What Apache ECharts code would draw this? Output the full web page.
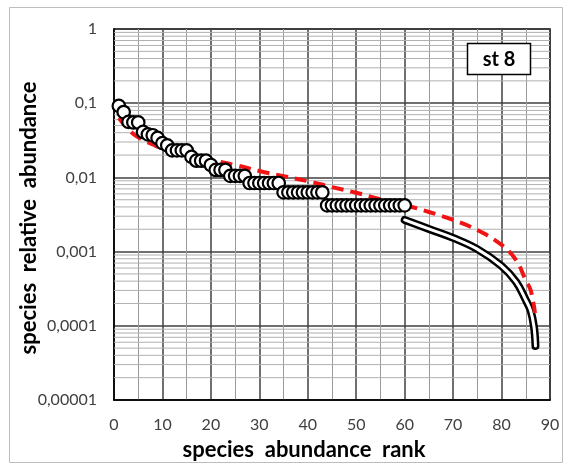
<!DOCTYPE html>
<html>
<head>
<meta charset="utf-8">
<script src="https://cdn.jsdelivr.net/npm/echarts@6/dist/echarts.min.js"></script>
<style>
  html, body { margin: 0; padding: 0; background: #fff; }
  #chart { width: 564px; height: 464px; }
</style>
</head>
<body>
<div id="chart"></div>
<script>
// Observed relative abundances, ranks 1..60
const observedAbundance = [
  0.092, 0.076, 0.056, 0.055, 0.055, 0.041, 0.038, 0.037, 0.034, 0.029,
  0.027, 0.0231, 0.0231, 0.0231, 0.0231, 0.0189, 0.0168, 0.0168, 0.0168, 0.0147,
  0.0126, 0.0126, 0.0126, 0.0105, 0.0105, 0.0105, 0.0105,
  0.0084, 0.0084, 0.0084, 0.0084, 0.0084, 0.0084, 0.0084,
  0.0063, 0.0063, 0.0063, 0.0063, 0.0063, 0.0063, 0.0063, 0.0063, 0.0063,
  0.0042, 0.0042, 0.0042, 0.0042, 0.0042, 0.0042, 0.0042, 0.0042, 0.0042,
  0.0042, 0.0042, 0.0042, 0.0042, 0.0042, 0.0042, 0.0042, 0.0042
];

// Estimated tail of rare (unobserved) species
const tailRanks  = [60, 65, 70, 75, 80, 83, 85, 86, 86.7, 87];
const tailValues = [0.00267, 0.00202, 0.00153, 0.00108, 0.00064, 0.00039, 0.000223, 0.00016, 0.0000963, 0.0000534];

// Fitted model curve
const fitRanks  = [1, 2, 4, 6, 8, 10, 15, 20, 25, 30, 35, 40, 45, 50, 55, 60, 65, 70, 75, 80, 83, 85, 86, 86.9];
const fitValues = [0.0632, 0.0525, 0.0385, 0.0319, 0.0278, 0.0245, 0.020, 0.0172, 0.0147, 0.0122, 0.0104,
                   0.0089, 0.0074, 0.0062, 0.0051, 0.00425, 0.00342, 0.00267, 0.00195, 0.00123, 0.00077,
                   0.00041, 0.000303, 0.000149];

const yTickLabels = { '1': '1', '0.1': '0,1', '0.01': '0,01', '0.001': '0,001', '0.0001': '0,0001', '0.00001': '0,00001' };
const stationLabel = 'st 8';

// minor log grid lines (2..9 within each decade)
const minorLevels = [];
for (let e = -5; e < 0; e++) {
  for (let m = 2; m <= 9; m++) minorLevels.push([0, m * Math.pow(10, e)]);
}

const observedData = observedAbundance.map((v, i) => [i + 1, v]);
const tailData = tailRanks.map((r, i) => [r, tailValues[i]]);
const fitData = fitRanks.map((r, i) => [r, fitValues[i]]);

const font = 'Lato, "Open Sans", sans-serif';

const chart = echarts.init(document.getElementById('chart'), null, { renderer: 'canvas' });
chart.setOption({
  backgroundColor: '#fff',
  animation: false,
  grid: {
    left: 114, right: 14, top: 29, bottom: 64,
    show: true, borderColor: '#000', borderWidth: 1.5, backgroundColor: 'transparent'
  },
  xAxis: {
    type: 'value', min: 0, max: 90, interval: 10,
    axisLine: { show: true, lineStyle: { color: '#000', width: 1.5 } },
    axisTick: { show: false },
    axisLabel: { color: '#404040', fontFamily: font, fontSize: 16, margin: 17 },
    splitLine: { show: true, lineStyle: { color: '#404040', width: 1.5 } },
    minorTick: { show: false, splitNumber: 2 },
    minorSplitLine: { show: true, lineStyle: { color: '#9a9a9a', width: 1 } }
  },
  yAxis: {
    type: 'log', logBase: 10, min: 0.00001, max: 1, splitNumber: 5,
    axisLine: { show: true, lineStyle: { color: '#000', width: 1.5 } },
    axisTick: { show: false },
    axisLabel: {
      color: '#404040', fontFamily: font, fontSize: 16, margin: 17,
      formatter: v => {
        const d = Math.round(-Math.log10(v));
        const key = d <= 0 ? '1' : v.toFixed(d);
        return yTickLabels[key] || key.replace('.', ',');
      }
    },
    splitLine: { show: true, lineStyle: { color: '#404040', width: 1.5 } }
  },
  graphic: {
    elements: [
      {
        type: 'rect', z: -10, silent: true,
        shape: { x: 9.5, y: 7.5, width: 553, height: 455 },
        style: { fill: 'none', stroke: '#bdbdbd', lineWidth: 1 }
      },
      {
        type: 'text', x: 304, y: 450, z: 100,
        style: { text: 'species  abundance  rank', font: 'bold 22px ' + font, fill: '#000', align: 'center', verticalAlign: 'middle' }
      },
      {
        type: 'text', x: 29, y: 218, rotation: Math.PI / 2, z: 100,
        style: { text: 'species  relative  abundance', font: 'bold 22px ' + font, fill: '#000', align: 'center', verticalAlign: 'middle' }
      },
      {
        type: 'rect', z: 100, zlevel: 0,
        shape: { x: 467.5, y: 43.5, width: 63, height: 31 },
        style: { fill: '#fff', stroke: '#000', lineWidth: 1.5 }
      },
      {
        type: 'text', x: 499, y: 59.5, z: 101,
        style: { text: stationLabel, font: 'bold 20px ' + font, fill: '#000', align: 'center', verticalAlign: 'middle' }
      }
    ]
  },
  series: [
    {
      name: 'minor grid',
      type: 'custom', silent: true, z: 1,
      data: minorLevels,
      renderItem: (params, api) => {
        const y = api.coord([0, api.value(1)])[1];
        const cs = params.coordSys;
        return {
          type: 'line',
          shape: { x1: cs.x, y1: y, x2: cs.x + cs.width, y2: y },
          style: { stroke: '#b0b0b0', lineWidth: 1 }
        };
      }
    },
    {
      name: 'tail outline',
      type: 'line', z: 3, data: tailData, smooth: 0.4, showSymbol: false,
      lineStyle: { color: '#000', width: 8, cap: 'round', join: 'round' }
    },
    {
      name: 'tail',
      type: 'line', z: 4, data: tailData, smooth: 0.4, showSymbol: false,
      lineStyle: { color: '#fff', width: 3, cap: 'round', join: 'round' }
    },
    {
      name: 'fit',
      type: 'line', z: 5, data: fitData, smooth: 0.4, showSymbol: false,
      lineStyle: { color: '#f01414', width: 4, type: [12, 7] }
    },
    {
      name: 'observed',
      type: 'line', z: 6, data: observedData,
      lineStyle: { width: 0 },
      symbol: 'circle', symbolSize: 12.5, showAllSymbol: true,
      itemStyle: { color: '#fff', borderColor: '#000', borderWidth: 2.2 }
    }
  ]
});
</script>
</body>
</html>
